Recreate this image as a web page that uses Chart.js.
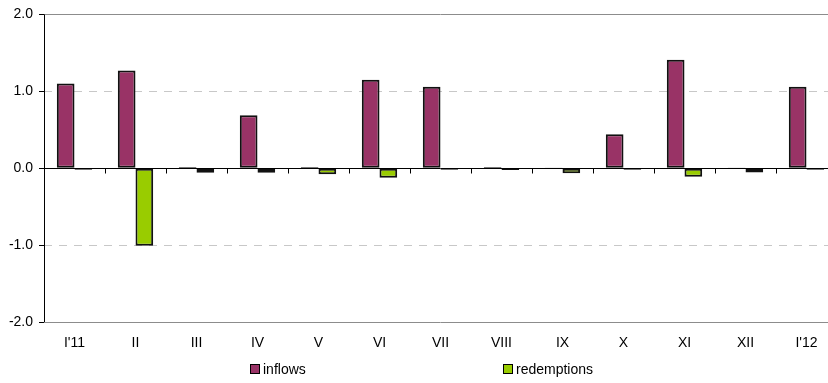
<!DOCTYPE html>
<html>
<head>
<meta charset="utf-8">
<script src="https://cdn.jsdelivr.net/npm/chart.js@4/dist/chart.umd.min.js"></script>
<style>
  html, body { margin: 0; padding: 0; background: #fff; overflow: hidden; }
  #wrap { position: relative; width: 840px; height: 383px; }
  #legend { position: absolute; top: 361px; left: 0; width: 840px; height: 18px;
            font: 14px "Liberation Sans", Arial, sans-serif; color: #000; }
  .item { position: absolute; top: 0; display: flex; align-items: center; height: 16px; }
  .swatch { width: 8px; height: 8px; border: 1px solid #000; margin-right: 3px; }
</style>
</head>
<body>
<div id="wrap">
  <canvas id="c" width="840" height="383"></canvas>
  <div id="legend"></div>
</div>
<script>
// Monthly flows, Jan 2011 - Jan 2012
const months = ["I'11", "II", "III", "IV", "V", "VI", "VII", "VIII", "IX", "X", "XI", "XII", "I'12"];
const inflows = [1.10, 1.27, 0.015, 0.69, 0.015, 1.15, 1.06, 0.015, 0.01, 0.44, 1.41, 0.01, 1.06];
const redemptions = [-0.02, -1.01, -0.06, -0.06, -0.08, -0.125, -0.02, -0.025, -0.065, -0.02, -0.11, -0.055, -0.02];
const yTicks = [-2, -1, 0, 1, 2];

const FONT = { family: '"Liberation Sans", Arial, sans-serif', size: 14 };

// Horizontal reference lines and the zero axis with its category ticks
const frame = {
  id: 'frame',
  beforeDatasetsDraw(chart) {
    const { ctx, chartArea: a, scales: { y } } = chart;
    ctx.save();
    yTicks.forEach(v => {
      if (v === 0) return;
      const py = Math.round(y.getPixelForValue(v)) + 0.5;
      ctx.beginPath();
      if (Math.abs(v) === 2) {
        ctx.setLineDash([]);
        ctx.strokeStyle = '#8c8c8c';
      } else {
        ctx.setLineDash([8, 7]);
        ctx.strokeStyle = '#c8c8c8';
      }
      ctx.lineWidth = 1;
      ctx.moveTo(a.left, py);
      ctx.lineTo(a.right, py);
      ctx.stroke();
    });
    const py0 = Math.round(y.getPixelForValue(0)) + 0.5;
    ctx.setLineDash([]);
    ctx.strokeStyle = '#000';
    ctx.beginPath();
    ctx.moveTo(a.left, py0);
    ctx.lineTo(a.right, py0);
    ctx.stroke();
    ctx.restore();
  },
  afterDatasetsDraw(chart) {
    const { ctx, chartArea: a, scales: { x, y } } = chart;
    ctx.save();
    const py0 = Math.round(y.getPixelForValue(0)) + 0.5;
    ctx.strokeStyle = '#000';
    ctx.lineWidth = 1;
    // tick marks between categories
    const step = x.getPixelForValue(1) - x.getPixelForValue(0);
    for (let i = 1; i < months.length; i++) {
      const px = Math.round(x.getPixelForValue(i) - step / 2) + 0.5;
      ctx.beginPath();
      ctx.moveTo(px, py0);
      ctx.lineTo(px, py0 + 5);
      ctx.stroke();
    }
    // left axis line
    const lx = Math.round(a.left) + 0.5;
    ctx.beginPath();
    ctx.moveTo(lx, a.top);
    ctx.lineTo(lx, a.bottom);
    ctx.stroke();
    ctx.restore();
  }
};

const chart = new Chart(document.getElementById('c'), {
  type: 'bar',
  data: {
    labels: months,
    datasets: [
      { label: 'inflows', data: inflows, backgroundColor: '#993366', borderColor: '#111', borderWidth: 2, borderSkipped: false },
      { label: 'redemptions', data: redemptions, backgroundColor: '#99cc00', borderColor: '#111', borderWidth: 2, borderSkipped: false }
    ]
  },
  options: {
    responsive: false,
    animation: false,
    layout: { padding: { top: 12, right: 3, left: 0, bottom: 0 } },
    datasets: { bar: { categoryPercentage: 0.58, barPercentage: 1.0 } },
    plugins: { legend: { display: false }, tooltip: { enabled: false } },
    scales: {
      x: {
        grid: { display: false, drawTicks: false },
        border: { display: false },
        ticks: { color: '#000', font: FONT, padding: 13, maxRotation: 0, autoSkip: false },
        afterFit(s) { s.height = 61; }
      },
      y: {
        min: -2, max: 2,
        afterBuildTicks(s) { s.ticks = yTicks.map(v => ({ value: v })); },
        grid: { drawOnChartArea: false, drawTicks: true, tickLength: 5, tickColor: '#000' },
        border: { display: false },
        ticks: { color: '#000', font: FONT, padding: 6, callback: v => Number(v).toFixed(1) },
        afterFit(s) { s.width = 44; }
      }
    }
  },
  plugins: [frame]
});

// Legend built from the datasets
const legend = document.getElementById('legend');
const legendX = [250, 503];
chart.data.datasets.forEach((ds, i) => {
  const item = document.createElement('div');
  item.className = 'item';
  item.style.left = legendX[i] + 'px';
  const sw = document.createElement('span');
  sw.className = 'swatch';
  sw.style.background = ds.backgroundColor;
  const tx = document.createElement('span');
  tx.textContent = ds.label;
  item.appendChild(sw);
  item.appendChild(tx);
  legend.appendChild(item);
});
</script>
</body>
</html>
